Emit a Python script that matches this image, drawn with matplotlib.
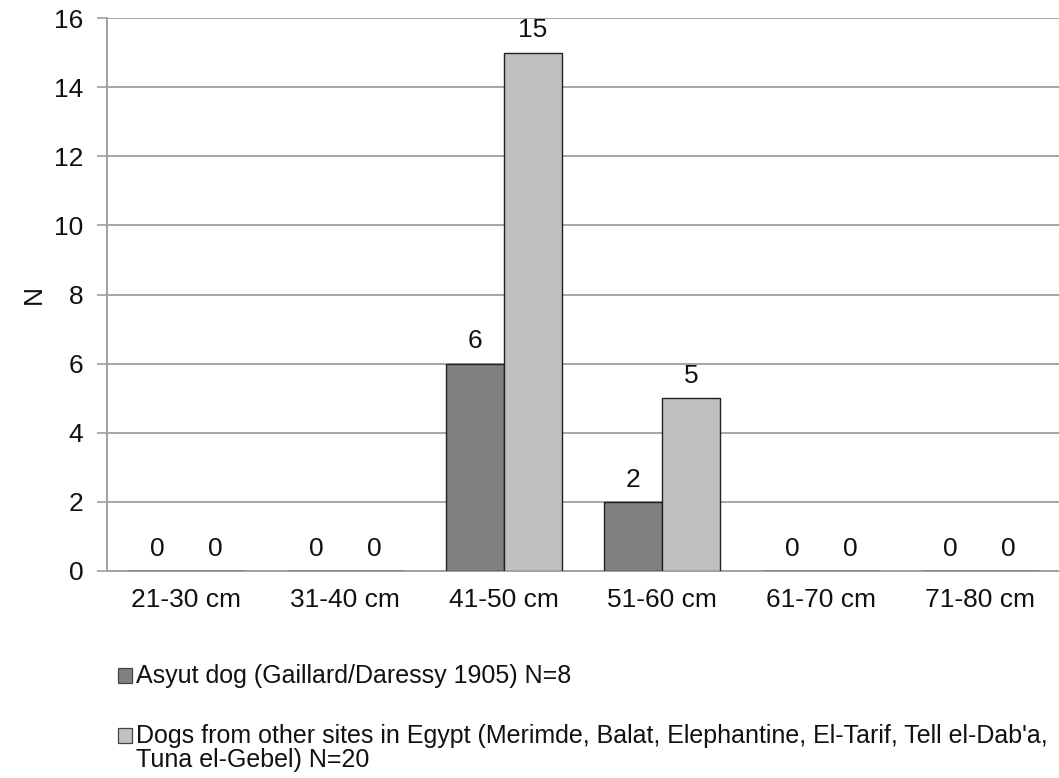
import matplotlib
matplotlib.use("Agg")
import matplotlib.pyplot as plt
import numpy as np
from matplotlib.patches import Rectangle

categories = ["21-30 cm", "31-40 cm", "41-50 cm", "51-60 cm", "61-70 cm", "71-80 cm"]
asyut = [0, 0, 6, 2, 0, 0]
others = [0, 0, 15, 5, 0, 0]
labels = ["Asyut dog (Gaillard/Daressy 1905) N=8",
          "Dogs from other sites in Egypt (Merimde, Balat, Elephantine, El-Tarif, Tell el-Dab'a,\nTuna el-Gebel) N=20"]
colors = ["#808080", "#c0c0c0"]
yticks = [0, 2, 4, 6, 8, 10, 12, 14, 16]

plt.rcParams['font.family'] = ['Liberation Sans', 'DejaVu Sans']

W, H = 1059, 778
fig = plt.figure(figsize=(W/100, H/100), dpi=100)
ax = fig.add_axes([107/W, 1 - 571/H, 1 - 107/W, (571 - 18)/H])

x = np.arange(len(categories))
w = 0.365
b1 = ax.bar(x - w/2, asyut, w, color=colors[0], edgecolor="#222222", linewidth=1.0, zorder=3)
b2 = ax.bar(x + w/2, others, w, color=colors[1], edgecolor="#222222", linewidth=1.0, zorder=3)
for bars, vals in ((b1, asyut), (b2, others)):
    for r, v in zip(bars, vals):
        ax.text(r.get_x() + r.get_width()/2, v + 0.3, str(v), ha="center", va="bottom",
                fontsize=19, color="#111111")

ax.set_xlim(-0.5, len(categories) - 0.5)
ax.set_ylim(0, 16)
ax.set_yticks(yticks)
ax.set_xticks(x)
ax.set_xticklabels(categories)
ax.yaxis.grid(True, color="#a6a6a6", linewidth=1.4, zorder=0)
ax.set_axisbelow(True)
for s in ("top", "right"):
    ax.spines[s].set_visible(False)
ax.spines["left"].set_color("#a0a0a0")
ax.spines["left"].set_linewidth(1.4)
ax.spines["bottom"].set_color("#a0a0a0")
ax.spines["bottom"].set_linewidth(1.4)
ax.tick_params(axis="y", length=7, width=1.2, color="#a0a0a0", labelsize=19, pad=10, labelcolor="#111111")
ax.tick_params(axis="x", length=0, labelsize=19, pad=12, labelcolor="#111111")
ax.set_ylabel("N", fontsize=19, color="#111111")
ax.yaxis.label.set_va("center")
ax.yaxis.set_label_coords(-0.077, 0.5)

# legend
fs = 18
for lab, c, yb in zip(labels, colors, [683, 743]):
    sq = Rectangle((118/W, 1 - yb/H), 14/W, 15/H, transform=fig.transFigure,
                   facecolor=c, edgecolor="#444444", linewidth=0.9)
    fig.patches.append(sq)
    for k, line in enumerate(lab.split("\n")):
        fig.text(136/W, 1 - (yb + 23.5 * k)/H, line, fontsize=fs, va="baseline",
                 ha="left", color="#111111")

fig.savefig("out.png", dpi=100)
